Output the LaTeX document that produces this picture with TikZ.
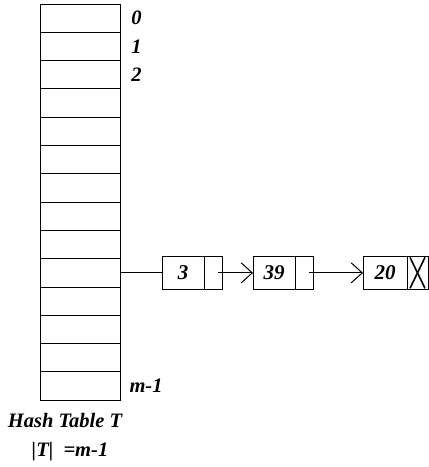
\documentclass[tikz,border=0pt]{standalone}
\usepackage{fontspec}
\setmainfont{Liberation Serif}
\usetikzlibrary{arrows.meta,positioning}

\begin{document}
\begin{tikzpicture}[x=1pt,y=1pt,line width=1pt,
%defines
slot/.style={rectangle,draw,minimum width=80pt,minimum height=28.3pt,
inner sep=0pt,outer sep=0pt},
key/.style={rectangle,draw,minimum width=42pt,minimum height=33pt,
inner sep=0pt,outer sep=0pt,font=\fontsize{21}{24}\selectfont\bfseries\itshape},
link/.style={rectangle,draw,minimum width=18pt,minimum height=33pt,
inner sep=0pt,outer sep=0pt},
idx/.style={inner sep=0pt,font=\fontsize{20.5}{24}\selectfont\bfseries\itshape},
>={Straight Barb[length=11pt,width=20pt]}]
\useasboundingbox (0,0) rectangle (429,-467);
%nodes
\node[slot] (c0) at (80,-18.15) {};
\foreach \i [count=\j from 0] in {1,...,13}
  \node[slot] (c\i) [below=0pt of c\j] {};
\node[idx] (i0) [right=11pt of c0]  {0};
\node[idx] (i1) [right=11pt of c1]  {1};
\node[idx] (i2) [right=11pt of c2]  {2};
\node[idx] (im) [right=9pt of c13]  {m-1};
\node[idx] (name) at (65,-420) {Hash Table T};
\node[idx] (size) at (70,-452) {|T|\ \ =m-1};
\node[key]  (k1)  [right=42pt of c9] {3};
\node[link] (n1)  [right=0pt of k1]  {};
\node[key]  (k2)  [right=31pt of n1] {39};
\node[link] (n2)  [right=0pt of k2]  {};
\node[key,minimum width=44pt] (k3) [right=50pt of n2] {20};
\node[link,minimum width=21pt] (nil) [right=0pt of k3] {};
%links
\draw (c9.east) -- (k1);
\draw [->] ([xshift=5pt]n1.center) -- (k2);
\draw [->] ([xshift=5pt]n2.center) -- (k3);
\draw [line width=1.6pt] ([shift={(3pt,-1pt)}]nil.north west) -- ([shift={(-3pt,1pt)}]nil.south east);
\draw [line width=1.6pt] ([shift={(-3pt,-1pt)}]nil.north east) -- ([shift={(3pt,1pt)}]nil.south west);
\end{tikzpicture}
\end{document}
